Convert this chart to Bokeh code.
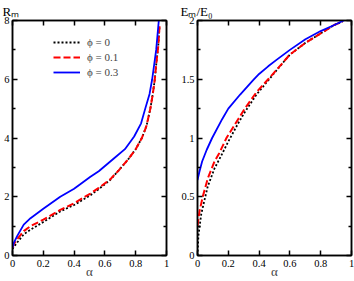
from bokeh.plotting import figure
from bokeh.models import Range1d, FixedTicker, LinearAxis, Legend, LegendItem
from bokeh.layouts import row
from bokeh.embed import file_html
from bokeh.resources import INLINE

FONT = "Liberation Serif"

# ---- data: left panel R_m vs alpha ----
alpha_R_phi0 = [0, 0.01, 0.03, 0.073, 0.117, 0.2, 0.31, 0.4, 0.506, 0.56, 0.636, 0.69, 0.755, 0.8, 0.84, 0.87, 0.895, 0.912, 0.924, 0.935, 0.946, 0.955]
R_phi0 = [0.22, 0.3, 0.44, 0.72, 0.88, 1.14, 1.5, 1.72, 2.05, 2.26, 2.58, 2.9, 3.3, 3.62, 4.0, 4.41, 5.0, 5.53, 6.0, 6.6, 7.1, 7.82]
alpha_R_phi01 = [0, 0.01, 0.03, 0.073, 0.117, 0.2, 0.31, 0.4, 0.506, 0.56, 0.636, 0.69, 0.755, 0.8, 0.84, 0.87, 0.895, 0.912, 0.924, 0.935, 0.946, 0.955]
R_phi01 = [0.27, 0.4, 0.55, 0.83, 1.0, 1.22, 1.55, 1.78, 2.11, 2.3, 2.6, 2.9, 3.3, 3.62, 4.0, 4.41, 5.0, 5.53, 6.0, 6.6, 7.1, 7.82]
alpha_R_phi03 = [0, 0.01, 0.03, 0.073, 0.117, 0.2, 0.31, 0.4, 0.506, 0.56, 0.658, 0.73, 0.79, 0.835, 0.862, 0.89, 0.907, 0.92, 0.933, 0.95]
R_phi03 = [0.27, 0.45, 0.66, 1.05, 1.27, 1.59, 2.0, 2.27, 2.68, 2.87, 3.3, 3.62, 4.05, 4.5, 5.0, 5.5, 6.0, 6.5, 7.0, 8.0]

# ---- data: right panel E_m/E_0 vs alpha ----
alpha_E_phi0 = [0, 0.006, 0.024, 0.045, 0.067, 0.11, 0.154, 0.2, 0.262, 0.307, 0.383, 0.459, 0.513, 0.6, 0.701, 0.8, 0.885, 0.94]
E_phi0 = [0.0, 0.17, 0.35, 0.47, 0.59, 0.74, 0.85, 0.97, 1.12, 1.22, 1.37, 1.49, 1.575, 1.71, 1.81, 1.89, 1.96, 1.99]
alpha_E_phi01 = [0, 0.013, 0.034, 0.067, 0.11, 0.141, 0.188, 0.264, 0.307, 0.383, 0.459, 0.513, 0.6, 0.701, 0.8, 0.885, 0.94]
E_phi01 = [0.25, 0.376, 0.5, 0.657, 0.8, 0.87, 1.0, 1.16, 1.25, 1.39, 1.5, 1.58, 1.71, 1.81, 1.89, 1.96, 1.99]
alpha_E_phi03 = [0, 0.012, 0.03, 0.06, 0.095, 0.16, 0.2, 0.277, 0.36, 0.4, 0.459, 0.513, 0.6, 0.701, 0.8, 0.885, 0.95]
E_phi03 = [0.643, 0.71, 0.8, 0.9, 1.0, 1.16, 1.25, 1.37, 1.49, 1.545, 1.61, 1.665, 1.75, 1.84, 1.91, 1.96, 2.0]

# ---- ticks and texts ----
x_ticks = [0, 0.2, 0.4, 0.6, 0.8, 1]
x_tick_labels = ["0", "0.2", "0.4", "0.6", "0.8", "1"]
R_ticks = [0, 2, 4, 6, 8]
R_minor = [1, 3, 5, 7]
R_tick_labels = ["0", "2", "4", "6", "8"]
E_ticks = [0, 0.5, 1, 1.5, 2]
E_minor = [0.25, 0.75, 1.25, 1.75]
E_tick_labels = ["0", "0.5", "1", "1.5", "2"]
R_title = "R\u2098"
E_title = "E\u2098/E\u2080"
x_title = "\u03b1"

legend_labels = ["\u03d5 = 0", "\u03d5 = 0.1", "\u03d5 = 0.3"]
colors = ["black", "#ff0000", "#0000ff"]
dashes = ["2 2", "7 3", "solid"]
widths = [1.8, 2.0, 1.8]


def style_axis(ax, ticks, labels):
    ax.axis_line_color = "black"
    ax.axis_line_width = 1.5
    ax.major_tick_line_color = "black"
    ax.major_tick_line_width = 1.5
    ax.minor_tick_line_color = "black"
    ax.minor_tick_line_width = 1.5
    ax.major_tick_in = 5
    ax.major_tick_out = 0
    ax.minor_tick_in = 3
    ax.minor_tick_out = 0
    ax.major_label_text_font = FONT
    ax.major_label_text_color = "black"
    ax.major_label_text_font_size = "10.5px"
    ax.major_label_standoff = 3
    if labels is None:
        ax.major_label_overrides = {t: "" for t in ticks}
        ax.major_label_standoff = 0
    else:
        ax.major_label_overrides = {t: l for t, l in zip(ticks, labels)}


def make_panel(width, ymax, yticks, yminor, ylabels, mb_left, mb_right, title, title_offset):
    p = figure(width=width, height=281, output_backend="svg", toolbar_location=None,
               x_range=Range1d(0, 1), y_range=Range1d(0, ymax),
               min_border_left=mb_left, min_border_right=mb_right,
               min_border_top=20, min_border_bottom=10, title=title)
    p.title.text_font = FONT
    p.title.text_font_size = "13px"
    p.title.text_font_style = "normal"
    p.title.text_color = "black"
    p.title.align = "left"
    p.title.offset = title_offset
    p.title.standoff = 3
    p.xgrid.visible = False
    p.ygrid.visible = False
    p.outline_line_color = "black"
    p.outline_line_width = 1.5
    p.background_fill_color = "white"
    p.border_fill_color = "white"

    bx = p.xaxis[0]
    bx.ticker = FixedTicker(ticks=x_ticks, minor_ticks=[])
    style_axis(bx, x_ticks, x_tick_labels)
    bx.major_label_standoff = 4
    bx.axis_label = x_title
    bx.axis_label_text_font = FONT
    bx.axis_label_text_font_style = "normal"
    bx.axis_label_text_font_size = "13px"
    bx.axis_label_standoff = -6

    ly = p.yaxis[0]
    ly.ticker = FixedTicker(ticks=yticks, minor_ticks=yminor)
    style_axis(ly, yticks, ylabels)

    top = LinearAxis(ticker=FixedTicker(ticks=x_ticks, minor_ticks=[]))
    style_axis(top, x_ticks, None)
    p.add_layout(top, "above")
    right = LinearAxis(ticker=FixedTicker(ticks=yticks, minor_ticks=yminor))
    style_axis(right, yticks, None)
    p.add_layout(right, "right")
    return p


p1 = make_panel(177, 8, R_ticks, R_minor, R_tick_labels, 12, 11, R_title, -10)
p2 = make_panel(177, 2, E_ticks, E_minor, E_tick_labels, 20, 3, E_title, -17)

items = []
for xs, ys, c, d, w, lab in zip([alpha_R_phi0, alpha_R_phi01, alpha_R_phi03],
                                 [R_phi0, R_phi01, R_phi03], colors, dashes, widths, legend_labels):
    r = p1.line(xs, ys, line_color=c, line_dash=d, line_width=w, line_join="round")
    items.append(LegendItem(label=lab, renderers=[r]))

for xs, ys, c, d, w in zip([alpha_E_phi0, alpha_E_phi01, alpha_E_phi03],
                           [E_phi0, E_phi01, E_phi03], colors, dashes, widths):
    p2.line(xs, ys, line_color=c, line_dash=d, line_width=w, line_join="round")

legend = Legend(items=items, location=(41, 176), label_text_font=FONT,
                label_text_font_size="11px", glyph_width=27, glyph_height=14,
                label_height=14, label_standoff=7, spacing=1, padding=0, margin=0,
                border_line_alpha=0, background_fill_alpha=0)
p1.add_layout(legend)

layout = row(p1, p2)
open("out.html", "w").write(file_html(layout, INLINE))
